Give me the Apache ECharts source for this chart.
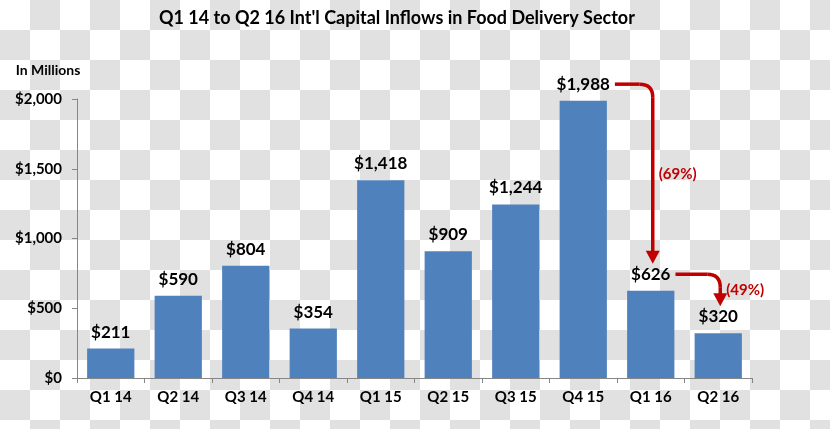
<!DOCTYPE html>
<html>
<head>
<meta charset="utf-8">
<script src="https://cdn.jsdelivr.net/npm/echarts@6/dist/echarts.min.js"></script>
<style>
html,body{margin:0;padding:0;}
body{width:830px;height:429px;background-color:#fff;
background-image:conic-gradient(#e1e1e1 25%, #ffffff 0 50%, #e1e1e1 0 75%, #ffffff 0);
background-size:60px 60px;background-position:0 0;}
#c{width:830px;height:429px;}
</style>
</head>
<body>
<div id="c"></div>
<script>
const categories = ['Q1 14','Q2 14','Q3 14','Q4 14','Q1 15','Q2 15','Q3 15','Q4 15','Q1 16','Q2 16'];
const values = [211, 590, 804, 354, 1418, 909, 1244, 1988, 626, 320];
const changes = [
  {from: 7, to: 8, text: '(69%)'},
  {from: 8, to: 9, text: '(49%)'}
];
const FONT = 'Lato, "Open Sans", sans-serif';
const fmt = v => '$' + v.toLocaleString('en-US');
const LABEL_SIZE = 17, LABEL_DIST = 8;

const chart = echarts.init(document.getElementById('c'), null, {renderer: 'canvas'});
const option = {
  backgroundColor: 'transparent',
  animation: false,
  title: {
    text: "Q1 14 to Q2 16 Int'l Capital Inflows in Food Delivery Sector",
    left: 154, top: 4,
    textStyle: {fontFamily: FONT, fontWeight: 'bold', fontSize: 18, color: '#000'}
  },
  graphic: [],
  grid: {left: 77, right: 78, top: 99, bottom: 51},
  xAxis: {
    type: 'category', data: categories,
    axisLine: {lineStyle: {color: '#868686', width: 1}},
    axisTick: {show: true, length: 5, alignWithLabel: false, lineStyle: {color: '#868686'}},
    axisLabel: {fontFamily: FONT, fontWeight: 'bold', fontSize: 15, color: '#000', margin: 12}
  },
  yAxis: {
    type: 'value', min: 0, max: 2000, interval: 500,
    name: 'In Millions', nameLocation: 'end', nameGap: 22,
    nameTextStyle: {fontFamily: FONT, fontWeight: 'bold', fontSize: 14, color: '#000', align: 'center', padding: [0, 58, 0, 0]},
    axisLine: {show: true, lineStyle: {color: '#868686', width: 1}},
    axisTick: {show: true, length: 5, inside: false, lineStyle: {color: '#868686'}},
    splitLine: {show: false},
    axisLabel: {fontFamily: FONT, fontWeight: 'bold', fontSize: 15, color: '#000', margin: 15,
      formatter: v => fmt(v)}
  },
  series: [{
    type: 'bar', data: values, barCategoryGap: '30%',
    itemStyle: {color: '#4F81BD'},
    label: {show: true, position: 'top', distance: LABEL_DIST, fontFamily: FONT, fontWeight: 'bold',
      fontSize: LABEL_SIZE, color: '#000', formatter: p => fmt(p.value)}
  }]
};
chart.setOption(option);

const ctx = document.createElement('canvas').getContext('2d');
ctx.font = 'bold ' + LABEL_SIZE + 'px ' + FONT;
const RED = '#C00000';
const graphics = [];
changes.forEach(c => {
  const p1 = chart.convertToPixel({seriesIndex: 0}, [c.from, values[c.from]]);
  const p2 = chart.convertToPixel({seriesIndex: 0}, [c.to, values[c.to]]);
  const w = ctx.measureText(fmt(values[c.from])).width;
  const sx = p1[0] + w / 2 + 5;
  const sy = p1[1] - LABEL_DIST - LABEL_SIZE / 2;
  const vx = p2[0] + 2;
  const tipY = p2[1] - LABEL_DIST - LABEL_SIZE - 2;
  const r = 13, ah = 13, aw = 7;
  const style = {stroke: RED, lineWidth: 3.5, fill: null};
  graphics.push({type: 'polyline', shape: {points: [[sx, sy], [vx - r, sy]]}, style: style, silent: true});
  graphics.push({type: 'bezierCurve', shape: {x1: vx - r, y1: sy, x2: vx, y2: sy + r, cpx1: vx, cpy1: sy}, style: style, silent: true});
  graphics.push({type: 'polyline', shape: {points: [[vx, sy + r], [vx, tipY - ah + 1]]}, style: style, silent: true});
  graphics.push({type: 'polygon', shape: {points: [[vx - aw, tipY - ah], [vx + aw, tipY - ah], [vx, tipY]]}, style: {fill: RED}, silent: true});
  graphics.push({type: 'text', x: vx + 6, y: (sy + tipY) / 2,
    style: {text: c.text, fill: RED, font: 'bold 15px ' + FONT, verticalAlign: 'middle', align: 'left'}, silent: true});
});
chart.setOption({graphic: graphics});
</script>
</body>
</html>
